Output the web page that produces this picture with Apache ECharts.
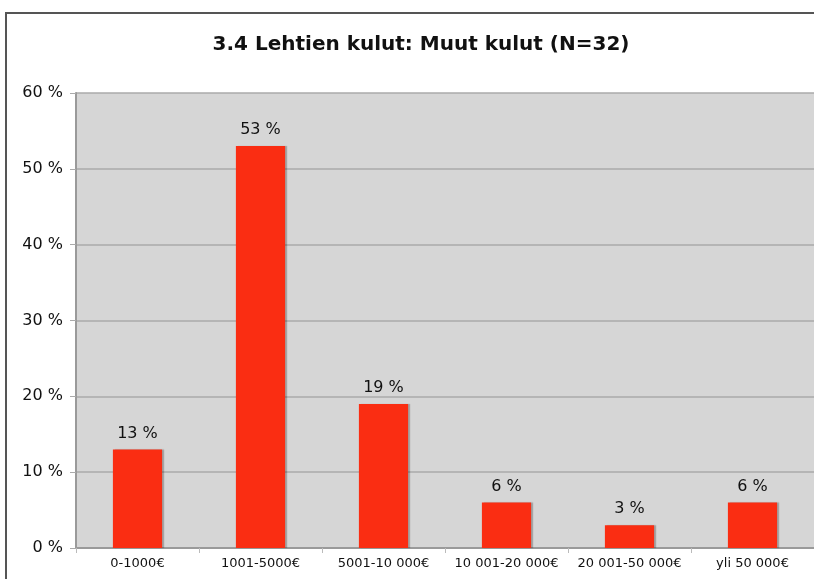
<!DOCTYPE html>
<html>
<head>
<meta charset="utf-8">
<script src="https://cdn.jsdelivr.net/npm/echarts@6/dist/echarts.min.js"></script>
<style>
    html, body { margin: 0; padding: 0; background: #fff; }
    #frame { position: absolute; left: 5px; top: 12px; width: 820px; height: 580px;
             border-left: 2px solid #555; border-top: 2px solid #555; }
    #main { position: absolute; left: 0; top: 0; width: 814px; height: 579px; }
</style>
</head>
<body>
<div id="frame"></div>
<div id="main"></div>
<script>
// 类别与数值
var categories = ['0-1000€', '1001-5000€', '5001-10 000€', '10 001-20 000€', '20 001-50 000€', 'yli 50 000€'];
var percents = [13, 53, 19, 6, 3, 6];
var yTicks = [0, 10, 20, 30, 40, 50, 60];

var chart = echarts.init(document.querySelector('#main'));

var option = {
    backgroundColor: 'transparent',
    textStyle: { fontFamily: 'DejaVu Sans' },
    title: {
        text: '3.4 Lehtien kulut: Muut kulut (N=32)',
        left: 416,
        textAlign: 'center',
        top: 30,
        textStyle: { fontSize: 20, fontWeight: 'bold', color: '#111', fontFamily: 'DejaVu Sans' }
    },
    grid: {
        left: 76, right: -1, top: 93, bottom: 31,
        show: true,
        backgroundColor: '#d6d6d6',
        borderWidth: 0
    },
    xAxis: {
        type: 'category',
        data: categories,
        axisLine: { lineStyle: { color: '#9a9a9a', width: 2 } },
        axisTick: { show: true, interval: 0, length: 5, lineStyle: { color: '#bbb' } },
        axisLabel: { interval: 0, color: '#111', fontSize: 13, margin: 9 }
    },
    yAxis: {
        type: 'value',
        min: yTicks[0],
        max: yTicks[yTicks.length - 1],
        interval: 10,
        axisLine: { show: true, lineStyle: { color: '#9a9a9a', width: 2 } },
        axisTick: { show: true, length: 6, lineStyle: { color: '#aaa' } },
        splitLine: { lineStyle: { color: '#aaaaaa', width: 1.5 } },
        axisLabel: { color: '#111', fontSize: 16, margin: 13, formatter: '{value} %' }
    },
    series: [{
        type: 'bar',
        data: percents,
        barWidth: '40%',
        itemStyle: {
            color: '#fa2d12',
            shadowColor: 'rgba(0,0,0,0.25)',
            shadowOffsetX: 2,
            shadowOffsetY: 0,
            shadowBlur: 1
        },
        label: {
            show: true,
            position: 'top',
            distance: 8,
            color: '#111',
            fontSize: 16,
            formatter: '{c} %'
        }
    }]
};

chart.setOption(option);
</script>
</body>
</html>
